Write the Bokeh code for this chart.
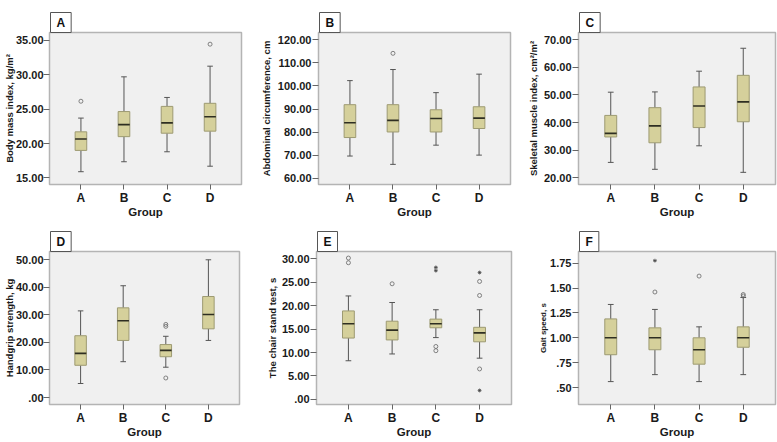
from bokeh.plotting import figure
from bokeh.models import Range1d, FixedTicker, LinearAxis
from bokeh.layouts import row, column
from bokeh.embed import file_html
from bokeh.resources import INLINE

# ---------------- data ----------------
GROUPS = ["A", "B", "C", "D"]

# A: Body mass index
bmi_low = [15.9, 17.35, 18.8, 16.7]
bmi_q1 = [19.0, 21.0, 21.5, 21.8]
bmi_med = [20.65, 22.75, 23.0, 23.9]
bmi_q3 = [21.7, 24.65, 25.4, 25.85]
bmi_high = [23.7, 29.7, 26.7, 31.25]
bmi_out_groups = ["A", "D"]
bmi_out_values = [26.15, 34.45]
bmi_ticks = [15, 20, 25, 30, 35]
bmi_tick_labels = ["15.00", "20.00", "25.00", "30.00", "35.00"]

# B: Abdominal circumference
ac_low = [69.7, 66.1, 74.4, 70.1]
ac_q1 = [77.7, 80.1, 80.1, 81.6]
ac_med = [84.1, 85.1, 85.9, 86.1]
ac_q3 = [91.9, 91.9, 89.7, 91.0]
ac_high = [102.3, 107.1, 97.1, 105.1]
ac_out_groups = ["B"]
ac_out_values = [114.1]
ac_ticks = [60, 70, 80, 90, 100, 110, 120]
ac_tick_labels = ["60.00", "70.00", "80.00", "90.00", "100.00", "110.00", "120.00"]

# C: Skeletal muscle index
smi_low = [25.6, 23.1, 31.6, 22.0]
smi_q1 = [34.8, 32.7, 38.2, 40.3]
smi_med = [36.1, 38.8, 46.0, 47.5]
smi_q3 = [42.6, 45.4, 52.9, 57.1]
smi_high = [51.0, 51.1, 58.6, 66.9]
smi_ticks = [20, 30, 40, 50, 60, 70]
smi_tick_labels = ["20.00", "30.00", "40.00", "50.00", "60.00", "70.00"]

# D: Handgrip strength
hgs_low = [5.1, 13.0, 11.0, 20.7]
hgs_q1 = [11.7, 20.7, 14.8, 24.9]
hgs_med = [16.0, 27.8, 17.1, 30.1]
hgs_q3 = [22.4, 32.5, 19.2, 36.6]
hgs_high = [31.4, 40.5, 22.2, 49.9]
hgs_out_groups = ["C", "C", "C"]
hgs_out_values = [26.5, 25.8, 7.1]
hgs_ticks = [0, 10, 20, 30, 40, 50]
hgs_tick_labels = [".00", "10.00", "20.00", "30.00", "40.00", "50.00"]

# E: Chair stand test
cst_low = [8.25, 9.7, 13.2, 8.8]
cst_q1 = [13.1, 12.7, 15.3, 12.3]
cst_med = [16.15, 14.8, 16.15, 14.2]
cst_q3 = [18.9, 16.7, 17.15, 15.4]
cst_high = [22.1, 20.7, 19.15, 19.15]
cst_out_groups = ["A", "A", "B", "C", "C", "D", "D", "D"]
cst_out_values = [30.2, 29.2, 24.7, 11.3, 10.4, 25.2, 22.2, 6.5]
cst_ext_groups = ["C", "C", "D", "D"]
cst_ext_values = [28.2, 27.5, 27.1, 1.9]
cst_ticks = [0, 5, 10, 15, 20, 25, 30]
cst_tick_labels = [".00", "5.00", "10.00", "15.00", "20.00", "25.00", "30.00"]

# F: Gait speed
gs_low = [0.56, 0.63, 0.56, 0.63]
gs_q1 = [0.83, 0.88, 0.735, 0.905]
gs_med = [1.0, 1.0, 0.88, 1.0]
gs_q3 = [1.19, 1.10, 1.0, 1.11]
gs_high = [1.335, 1.285, 1.11, 1.405]
gs_out_groups = ["B", "C", "D", "D"]
gs_out_values = [1.46, 1.62, 1.435, 1.42]
gs_ext_groups = ["B"]
gs_ext_values = [1.775]
gs_ticks = [0.5, 0.75, 1, 1.25, 1.5, 1.75]
gs_tick_labels = [".50", ".75", "1.00", "1.25", "1.50", "1.75"]

# ---------------- style ----------------
FONT = "Liberation Sans"
BOX_FILL = "#d5d09b"
BOX_LINE = "#9d9a72"
MED_LINE = "#2e2e22"
WHISK = "#555555"
BG = "#f0f0f0"
OUTLINE = "#b4b4b4"
BOX_W = 0.27
CAP_W = 0.13

POS = {g: i + 1 for i, g in enumerate(GROUPS)}


def panel(letter, ylabel, low, q1, med, q3, high, yr, ticks, tick_labels,
          width, height, borders, ylabel_standoff, ylabel_size="9.5px",
          ytick_standoff=1, out_g=(), out_v=(), ext_g=(), ext_v=()):
    bl, br, bt, bb = borders
    p = figure(width=width, height=height, title=letter,
               x_range=Range1d(0.27, 4.73), y_range=Range1d(*yr),
               output_backend="svg", toolbar_location=None,
               min_border_left=bl, min_border_right=br,
               min_border_top=bt, min_border_bottom=bb,
               background_fill_color=BG, border_fill_color="white")
    p.outline_line_color = OUTLINE
    p.outline_line_width = 1.5
    p.grid.visible = False

    xs = [POS[g] for g in GROUPS]
    # whiskers
    p.segment(x0=xs, x1=xs, y0=q3, y1=high, line_color=WHISK, line_width=1)
    p.segment(x0=xs, x1=xs, y0=q1, y1=low, line_color=WHISK, line_width=1)
    p.segment(x0=[x - CAP_W / 2 for x in xs], x1=[x + CAP_W / 2 for x in xs],
              y0=high, y1=high, line_color=WHISK, line_width=1)
    p.segment(x0=[x - CAP_W / 2 for x in xs], x1=[x + CAP_W / 2 for x in xs],
              y0=low, y1=low, line_color=WHISK, line_width=1)
    # boxes
    p.vbar(x=xs, width=BOX_W, bottom=q1, top=q3, fill_color=BOX_FILL,
           line_color=BOX_LINE, line_width=1)
    # medians
    p.segment(x0=[x - BOX_W / 2 for x in xs], x1=[x + BOX_W / 2 for x in xs],
              y0=med, y1=med, line_color=MED_LINE, line_width=1.6)
    if len(out_g):
        p.scatter(x=[POS[g] for g in out_g], y=list(out_v), marker="circle",
                  size=4, fill_color=None, line_color="#666666", line_width=0.8)
    if len(ext_g):
        p.scatter(x=[POS[g] for g in ext_g], y=list(ext_v), marker="asterisk",
                  size=3.8, line_color="#444444", line_width=0.8)

    # x axis
    xa = p.xaxis[0]
    xa.ticker = FixedTicker(ticks=xs)
    xa.major_label_overrides = {POS[g]: g for g in GROUPS}
    xa.axis_line_color = None
    xa.major_tick_out = 5
    xa.major_tick_in = 0
    xa.minor_tick_out = 0
    xa.minor_tick_in = 0
    xa.major_tick_line_color = "#666666"
    xa.major_label_standoff = 1
    xa.major_label_text_font = FONT
    xa.major_label_text_font_size = "12px"
    xa.major_label_text_font_style = "bold"
    xa.major_label_text_color = "#1a1a1a"
    xa.axis_label = "Group"
    xa.axis_label_text_font = FONT
    xa.axis_label_text_font_size = "11.5px"
    xa.axis_label_text_font_style = "bold"
    xa.axis_label_text_color = "#1a1a1a"
    xa.axis_label_standoff = -2

    # y axis
    ya = p.yaxis[0]
    ya.ticker = FixedTicker(ticks=ticks)
    ya.major_label_overrides = {
        (int(t) if float(t).is_integer() else t): lab
        for t, lab in zip(ticks, tick_labels)}
    ya.axis_line_color = None
    ya.major_tick_out = 6
    ya.major_tick_in = 0
    ya.minor_tick_out = 0
    ya.minor_tick_in = 0
    ya.major_tick_line_color = "#666666"
    ya.major_label_standoff = ytick_standoff
    ya.major_label_text_font = FONT
    ya.major_label_text_font_size = "11px"
    ya.major_label_text_font_style = "bold"
    ya.major_label_text_color = "#1a1a1a"
    ya.axis_label = ylabel
    ya.axis_label_text_font = FONT
    ya.axis_label_text_font_size = ylabel_size
    ya.axis_label_text_font_style = "bold"
    ya.axis_label_text_color = "#1a1a1a"
    ya.axis_label_standoff = ylabel_standoff

    # invisible spacer between frame and the panel-letter box
    spacer = LinearAxis(ticker=FixedTicker(ticks=[]), axis_line_color=None,
                        major_tick_out=10, major_tick_in=0, minor_tick_out=0,
                        minor_tick_in=0, major_tick_line_color=None,
                        minor_tick_line_color=None, major_label_text_color=None)
    p.add_layout(spacer, "above")

    # panel letter box
    t = p.title
    t.align = "left"
    t.vertical_align = "bottom"
    t.offset = 1
    t.standoff = 0
    t.text_font = FONT
    t.text_font_size = "12px"
    t.text_font_style = "bold"
    t.text_color = "#111111"
    t.background_fill_color = "white"
    t.border_line_color = "#555555"
    t.border_line_width = 1
    t.padding = (6, 3)
    return p


pA = panel("A", "Body mass index, kg/m\u00b2", bmi_low, bmi_q1, bmi_med, bmi_q3, bmi_high,
           (14.04, 36.15), bmi_ticks, bmi_tick_labels, 256, 220, (48, 15, 32, 34), -2,
           ytick_standoff=0, out_g=bmi_out_groups, out_v=bmi_out_values)
pB = panel("B", "Abdominal circumference, cm", ac_low, ac_q1, ac_med, ac_q3, ac_high,
           (57.4, 123.1), ac_ticks, ac_tick_labels, 266, 220, (62, 12, 32, 34), 3,
           out_g=ac_out_groups, out_v=ac_out_values)
pC = panel("C", "Skeletal muscle index, cm\u00b2/m\u00b2", smi_low, smi_q1, smi_med, smi_q3, smi_high,
           (17.6, 72.6), smi_ticks, smi_tick_labels, 255, 220, (56, 2, 32, 34), 2)
pD = panel("D", "Handgrip strength, kg", hgs_low, hgs_q1, hgs_med, hgs_q3, hgs_high,
           (-2.5, 52.9), hgs_ticks, hgs_tick_labels, 256, 222, (49, 17, 31, 38), -2,
           ytick_standoff=0, out_g=hgs_out_groups, out_v=hgs_out_values)
pE = panel("E", "The chair stand test, s", cst_low, cst_q1, cst_med, cst_q3, cst_high,
           (-1.1, 31.6), cst_ticks, cst_tick_labels, 266, 222, (60, 11, 31, 38), 1,
           out_g=cst_out_groups, out_v=cst_out_values, ext_g=cst_ext_groups, ext_v=cst_ext_values)
pF = panel("F", "Gait speed, s", gs_low, gs_q1, gs_med, gs_q3, gs_high,
           (0.33, 1.867), gs_ticks, gs_tick_labels, 255, 222, (56, 2, 31, 38), -1, ylabel_size="8px",
           out_g=gs_out_groups, out_v=gs_out_values, ext_g=gs_ext_groups, ext_v=gs_ext_values)

layout = column(row(pA, pB, pC), row(pD, pE, pF),
                styles={"position": "absolute", "left": "0px", "top": "0px"})

open("out.html", "w").write(file_html(layout, INLINE))
